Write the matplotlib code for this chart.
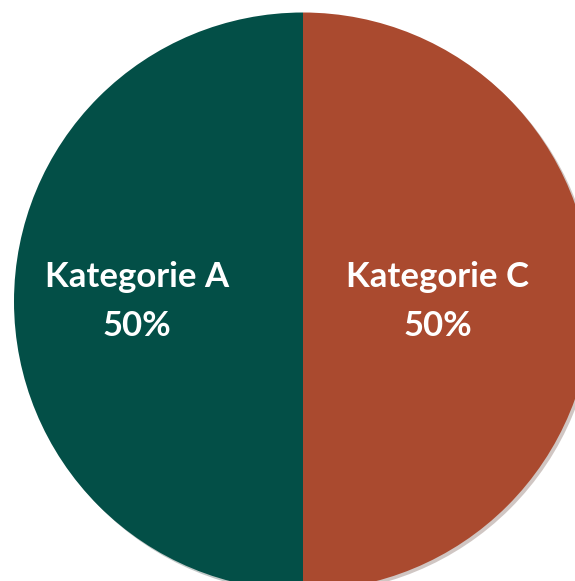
import matplotlib
matplotlib.use("Agg")
import matplotlib.pyplot as plt

# Chart data
categories = ["Kategorie A", "Kategorie C"]
values = [50, 50]
colors = ["#034f47", "#aa4a2f"]

# label anchor x in data units (radius = 1)
label_x = [-0.574, 0.467]

fig = plt.figure(figsize=(5.75, 5.81), dpi=100)
ax = fig.add_axes([0, 0, 1, 1])

ax.pie(
    values,
    colors=colors,
    startangle=90,
    counterclock=True,
    radius=1.0,
    center=(0, 0),
    wedgeprops=dict(linewidth=0),
    shadow=dict(ox=0.007, oy=-0.007, shade=0.6, alpha=0.25),
)

total = sum(values)
for name, val, x in zip(categories, values, label_x):
    ax.text(x, 0.0, f"{name}\n{val / total:.0%}", ha="center", va="center",
            color="white", fontsize=25, fontweight="bold", family="Lato",
            linespacing=1.65)

# circle centre at (303, 301.5) px, radius 289 px
ax.set_xlim(-303 / 289, (575 - 303) / 289)
ax.set_ylim(-(581 - 301.5) / 289, 301.5 / 289)
ax.set_aspect("auto")
ax.axis("off")

fig.savefig("out.png", dpi=100)
